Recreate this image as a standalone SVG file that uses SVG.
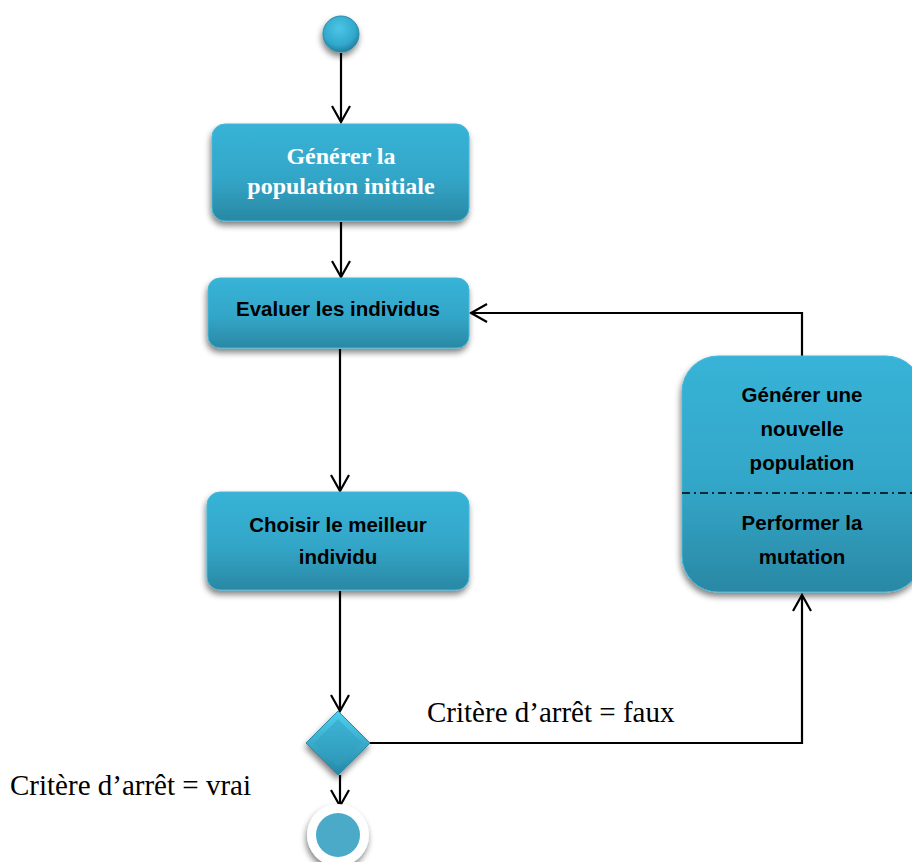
<svg xmlns="http://www.w3.org/2000/svg" width="912" height="862" viewBox="0 0 912 862">
<defs>
<linearGradient id="boxg" x1="0" y1="0" x2="0" y2="1">
<stop offset="0" stop-color="#37b3d7"/>
<stop offset="0.55" stop-color="#33a6c8"/>
<stop offset="1" stop-color="#2a88a4"/>
</linearGradient>
<radialGradient id="ballg" cx="0.45" cy="0.35" r="0.65">
<stop offset="0" stop-color="#4cc6e6"/>
<stop offset="0.7" stop-color="#31a8cc"/>
<stop offset="1" stop-color="#23809e"/>
</radialGradient>
<linearGradient id="diag" x1="0" y1="0" x2="0" y2="1">
<stop offset="0" stop-color="#4fd0ef"/>
<stop offset="1" stop-color="#2587a6"/>
</linearGradient>
<filter id="sh" x="-20%" y="-20%" width="140%" height="150%">
<feGaussianBlur in="SourceAlpha" stdDeviation="3"/>
<feOffset dx="-1" dy="4" result="b"/>
<feComponentTransfer><feFuncA type="linear" slope="0.5"/></feComponentTransfer>
<feMerge><feMergeNode/><feMergeNode in="SourceGraphic"/></feMerge>
</filter>
<marker id="arr" markerWidth="24" markerHeight="24" refX="20" refY="12" orient="auto" markerUnits="userSpaceOnUse">
<path d="M4,3 L20,12 L4,21" fill="none" stroke="#000" stroke-width="2.2"/>
</marker>
</defs>
<style>
.box{fill:url(#boxg);stroke:#44b8d8;stroke-width:1;filter:url(#sh)}
.con{fill:none;stroke:#000;stroke-width:2.2;marker-end:url(#arr)}
.ts{font-family:"Liberation Serif","Times New Roman",serif;font-weight:bold;font-size:24px;fill:#fff;text-anchor:middle}
.tc{font-family:"Liberation Sans",Arial,sans-serif;font-weight:bold;font-size:20.5px;fill:#000;text-anchor:middle}
.lab{font-family:"Liberation Serif","Times New Roman",serif;font-size:29px;fill:#000}
</style>
<g id="connectors">
<path class="con" d="M341,53 L341,122"/>
<path class="con" d="M341,222 L341,277"/>
<path class="con" d="M340,349 L340,491"/>
<path class="con" d="M340,591 L340,711"/>
<path class="con" d="M340,775 L340,806"/>
<path class="con" d="M370,743 L802,743 L802,595"/>
<path class="con" d="M802,356 L802,313 L471,313"/>
</g>
<g id="start">
<circle cx="341" cy="34" r="18" fill="url(#ballg)" stroke="#2a8aa8" stroke-width="1" filter="url(#sh)"/>
</g>
<g id="n1">
<rect class="box" x="212" y="124" width="257" height="97" rx="13"/>
<text class="ts" x="341" y="164">Générer la</text>
<text class="ts" x="341" y="194">population initiale</text>
</g>
<g id="n2">
<rect class="box" x="208" y="278" width="261" height="70" rx="12"/>
<text class="tc" x="338" y="316">Evaluer les individus</text>
</g>
<g id="n3">
<rect class="box" x="207" y="492" width="262" height="98" rx="13"/>
<text class="tc" x="338" y="532">Choisir le meilleur</text>
<text class="tc" x="338" y="564">individu</text>
</g>
<g id="n4">
<rect class="box" x="682" y="356" width="240" height="236" rx="36"/>
<line x1="682" y1="493" x2="912" y2="493" stroke="#000" stroke-width="1.5" stroke-dasharray="8,4,2,4"/>
<text class="tc" x="802" y="402">Générer une</text>
<text class="tc" x="802" y="436">nouvelle</text>
<text class="tc" x="802" y="470">population</text>
<text class="tc" x="802" y="530">Performer la</text>
<text class="tc" x="802" y="564">mutation</text>
</g>
<g id="decision">
<path d="M338,711 L370,743 L338,775 L306,743 Z" fill="url(#diag)" stroke="#2a8aa8" stroke-width="1" filter="url(#sh)"/>
<path d="M338,719 L362,743 L338,767 L314,743 Z" fill="#2fa0c2" opacity="0.5"/>
</g>
<g id="end">
<circle cx="338" cy="835" r="31" fill="#fff" filter="url(#sh)"/>
<circle cx="338" cy="835" r="22" fill="#4aaac8"/>
</g>
<text class="lab" x="427" y="722">Critère d’arrêt = faux</text>
<text class="lab" x="10" y="795">Critère d’arrêt = vrai</text>
</svg>
